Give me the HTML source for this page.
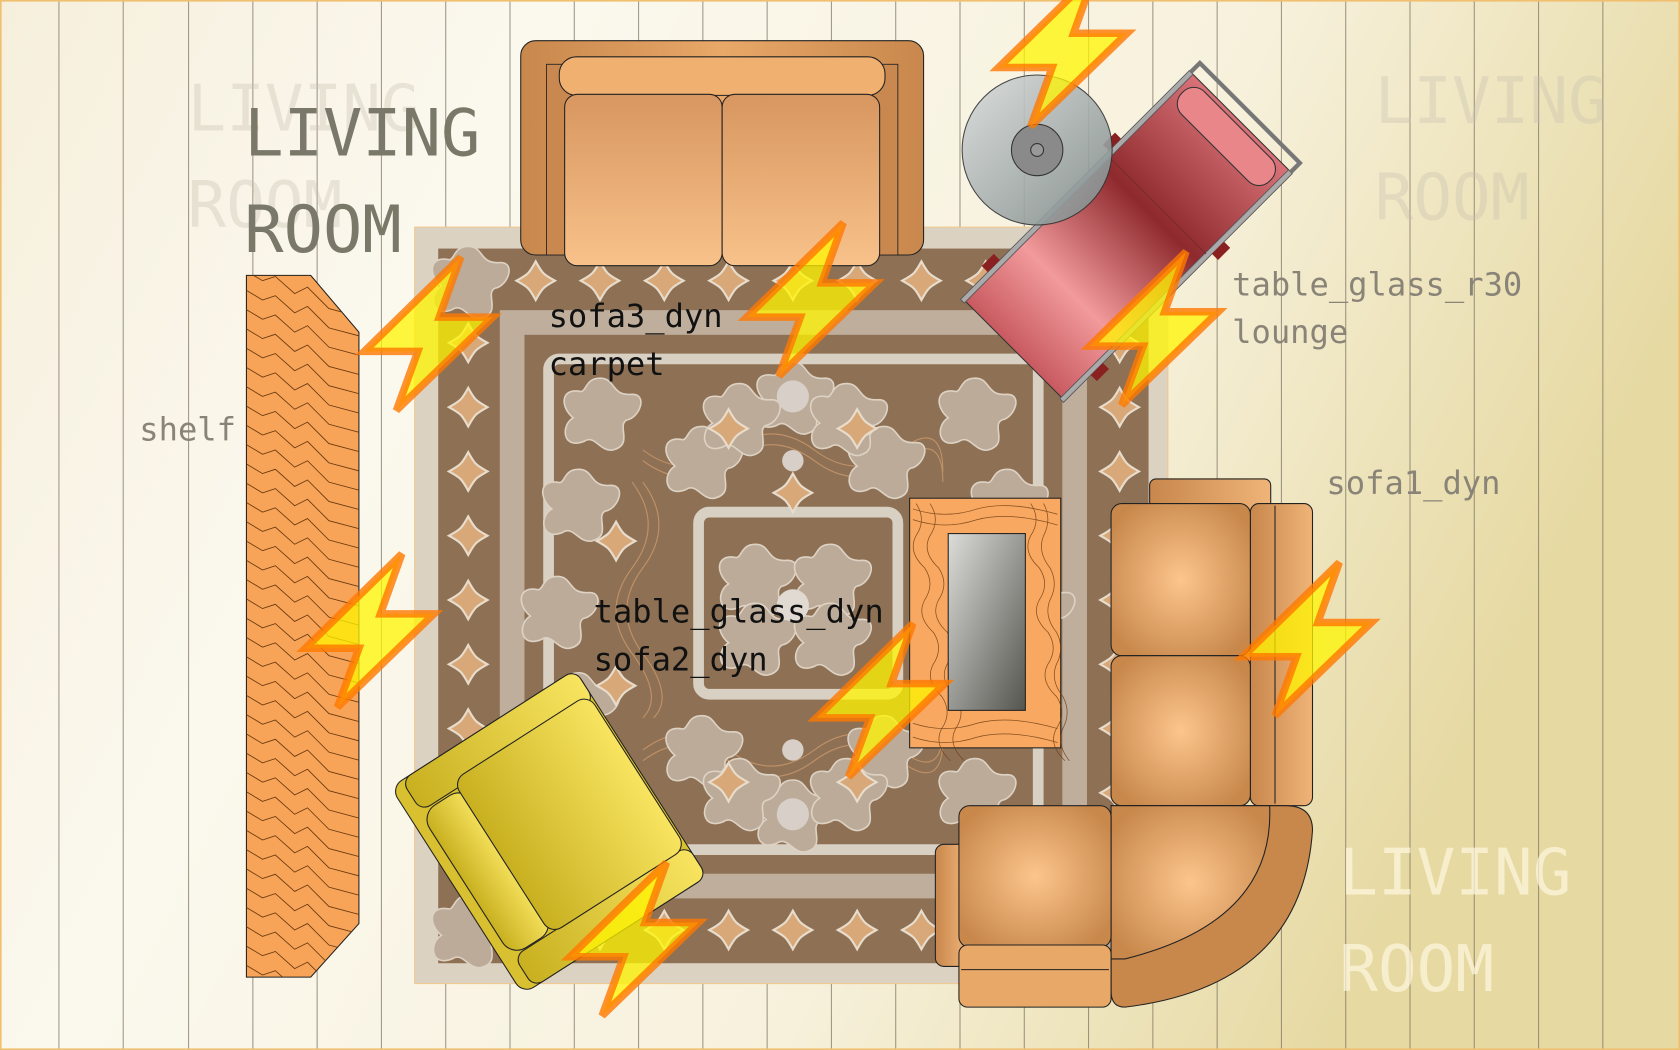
<!DOCTYPE html>
<html><head><meta charset="utf-8"><style>html,body{margin:0;padding:0;overflow:hidden}svg{display:block}</style></head>
<body>
<svg width="1680" height="1050" viewBox="0 0 1568 980" preserveAspectRatio="none" xmlns="http://www.w3.org/2000/svg">
<defs>
<linearGradient id="bg" x1="0" y1="0" x2="1" y2="0.3">
<stop offset="0" stop-color="#f6efdc"/><stop offset="0.3" stop-color="#fbf8ee"/><stop offset="0.7" stop-color="#f7f1dc"/><stop offset="1" stop-color="#e6d9a2"/></linearGradient>
<linearGradient id="sofaFrame" x1="0" y1="0" x2="1" y2="0"><stop offset="0" stop-color="#c8874c"/><stop offset="0.5" stop-color="#e8a868"/><stop offset="1" stop-color="#c8874c"/></linearGradient>
<linearGradient id="cush" x1="0" y1="0" x2="0" y2="1"><stop offset="0" stop-color="#d89660"/><stop offset="1" stop-color="#f8c28a"/></linearGradient>
<radialGradient id="rc" cx="0.5" cy="0.5" r="0.6"><stop offset="0" stop-color="#fcc58c"/><stop offset="1" stop-color="#c8884c"/></radialGradient>
<linearGradient id="arm" x1="0" y1="0" x2="1" y2="0"><stop offset="0" stop-color="#c8874c"/><stop offset="1" stop-color="#f0b478"/></linearGradient>
<linearGradient id="glass" x1="0" y1="0" x2="1" y2="1"><stop offset="0" stop-color="#dcdcd8"/><stop offset="1" stop-color="#555550"/></linearGradient>
<linearGradient id="rt" x1="0" y1="0" x2="1" y2="1"><stop offset="0" stop-color="#d8dcdc"/><stop offset="1" stop-color="#7d8888"/></linearGradient>
<linearGradient id="red" x1="0" y1="0" x2="0" y2="1"><stop offset="0" stop-color="#d87278"/><stop offset="0.4" stop-color="#8e2a2e"/><stop offset="0.75" stop-color="#f29a9c"/><stop offset="1" stop-color="#c85a60"/></linearGradient>
<linearGradient id="yel" x1="0" y1="0" x2="1" y2="0"><stop offset="0" stop-color="#c8b020"/><stop offset="1" stop-color="#f8e460"/></linearGradient>
<clipPath id="shelfClip"><polygon points="230,257 290,257 335,310 335,862 290,912 230,912"/></clipPath>
<path id="bolt" d="M90,0 L0,88 L50,88 L30,143 L120,56 L70,56 Z" fill="rgba(255,245,0,0.75)" stroke="rgba(255,120,0,0.8)" stroke-width="7"/>
<g id="cross"><path d="M0,-18 C6,-7 7,-6 18,0 C7,6 6,7 0,18 C-6,7 -7,6 -18,0 C-7,-6 -6,-7 0,-18Z" fill="#d8a878" stroke="#e8dccc" stroke-width="2"/></g>
<g id="blob"><path d="M0,-32 C15,-32 10,-15 30,-17 C45,-17 37,5 25,7 C15,12 32,30 12,35 C0,37 -5,20 -15,27 C-35,35 -37,12 -25,5 C-37,-5 -37,-22 -20,-20 C-12,-17 -15,-32 0,-32Z" fill="#bcab98" stroke="#ddd2c4" stroke-width="1.5"/></g>
<path id="wave" d="M0,0 q12,-6 24,0 t24,0 t24,0 t24,0 t24,0 t24,0 t24,0 t24,0 t24,0 t24,0 t24,0 t24,0 t24,0 t24,0 t24,0 t24,0 t24,0 t24,0 t24,0 t24,0" fill="none" stroke="#d9d0c4" stroke-width="9"/>
<path id="grain" d="M225,0 l20,12 l12,-4 l18,16 l12,-6 l20,20 l30,8 l20,-4" fill="none" stroke="#6a3a10" stroke-width="0.8"/>
</defs>
<rect width="1568" height="980" fill="url(#bg)"/>
<g stroke="#7a7060" stroke-width="1" opacity="0.7">
<line x1="55" y1="0" x2="55" y2="980"/><line x1="115" y1="0" x2="115" y2="980"/><line x1="176" y1="0" x2="176" y2="980"/><line x1="236" y1="0" x2="236" y2="980"/><line x1="296" y1="0" x2="296" y2="980"/><line x1="356" y1="0" x2="356" y2="980"/><line x1="416" y1="0" x2="416" y2="980"/><line x1="476" y1="0" x2="476" y2="980"/><line x1="536" y1="0" x2="536" y2="980"/><line x1="596" y1="0" x2="596" y2="980"/><line x1="656" y1="0" x2="656" y2="980"/><line x1="716" y1="0" x2="716" y2="980"/><line x1="776" y1="0" x2="776" y2="980"/><line x1="836" y1="0" x2="836" y2="980"/><line x1="896" y1="0" x2="896" y2="980"/><line x1="956" y1="0" x2="956" y2="980"/><line x1="1016" y1="0" x2="1016" y2="980"/><line x1="1076" y1="0" x2="1076" y2="980"/><line x1="1136" y1="0" x2="1136" y2="980"/><line x1="1196" y1="0" x2="1196" y2="980"/><line x1="1256" y1="0" x2="1256" y2="980"/><line x1="1316" y1="0" x2="1316" y2="980"/><line x1="1376" y1="0" x2="1376" y2="980"/><line x1="1436" y1="0" x2="1436" y2="980"/><line x1="1496" y1="0" x2="1496" y2="980"/>
</g>
<rect x="0.5" y="0.5" width="1567" height="979" fill="none" stroke="#f0c070" stroke-width="2"/>
<g font-family="'DejaVu Sans Mono','Liberation Mono',monospace" font-size="60" fill="#c8c0b0" opacity="0.35">
<text x="175" y="122">LIVING</text><text x="175" y="212">ROOM</text>
<text x="1283" y="115">LIVING</text><text x="1283" y="205">ROOM</text>
</g>
<g font-family="'DejaVu Sans Mono','Liberation Mono',monospace" font-size="60" fill="#fff8e0" opacity="0.7">
<text x="1250" y="835">LIVING</text><text x="1250" y="925">ROOM</text>
</g>
<!-- carpet -->
<rect x="387" y="212" width="703" height="706" fill="#dcd2c2" stroke="#f0c890" stroke-width="1"/>
<rect x="409" y="232" width="663" height="667" fill="#8e7155"/>
<g>
<use href="#blob" x="437" y="262"/><use href="#blob" x="1045" y="262"/><use href="#blob" x="437" y="868"/><use href="#blob" x="1045" y="868"/>
<use href="#cross" x="437" y="320"/><use href="#cross" x="437" y="380"/><use href="#cross" x="437" y="440"/><use href="#cross" x="437" y="500"/><use href="#cross" x="437" y="560"/><use href="#cross" x="437" y="620"/><use href="#cross" x="437" y="680"/><use href="#cross" x="437" y="740"/><use href="#cross" x="437" y="800"/>
<use href="#cross" x="1045" y="320"/><use href="#cross" x="1045" y="380"/><use href="#cross" x="1045" y="440"/><use href="#cross" x="1045" y="500"/><use href="#cross" x="1045" y="560"/><use href="#cross" x="1045" y="620"/><use href="#cross" x="1045" y="680"/><use href="#cross" x="1045" y="740"/><use href="#cross" x="1045" y="800"/>
<use href="#cross" x="500" y="262"/><use href="#cross" x="560" y="262"/><use href="#cross" x="620" y="262"/><use href="#cross" x="680" y="262"/><use href="#cross" x="740" y="262"/><use href="#cross" x="800" y="262"/><use href="#cross" x="860" y="262"/><use href="#cross" x="920" y="262"/><use href="#cross" x="980" y="262"/>
<use href="#cross" x="500" y="868"/><use href="#cross" x="560" y="868"/><use href="#cross" x="620" y="868"/><use href="#cross" x="680" y="868"/><use href="#cross" x="740" y="868"/><use href="#cross" x="800" y="868"/><use href="#cross" x="860" y="868"/><use href="#cross" x="920" y="868"/><use href="#cross" x="980" y="868"/>
</g>
<rect x="478" y="301" width="525" height="526" fill="none" stroke="#bfae9c" stroke-width="23"/>
<g>
<rect x="512" y="335" width="457" height="458" rx="10" fill="none" stroke="#d9d0c4" stroke-width="10"/>
<rect x="652" y="478" width="186" height="170" rx="10" fill="none" stroke="#d9d0c4" stroke-width="10"/>
<g fill="none" stroke="#d8a070" stroke-width="1" opacity="0.7">
<path d="M600,420 q40,30 80,0 t80,0 t80,0 t40,20"/><path d="M600,430 q40,30 80,0 t80,0 t80,0 t40,20"/>
<path d="M600,700 q40,-30 80,0 t80,0 t80,0 t40,-20"/><path d="M600,710 q40,-30 80,0 t80,0 t80,0 t40,-20"/>
<path d="M590,450 q30,40 0,80 t0,80 t10,60"/><path d="M600,450 q30,40 0,80 t0,80 t10,60"/>
</g>
<use href="#blob" x="560" y="385"/><use href="#blob" x="910" y="385"/><use href="#blob" x="560" y="740"/><use href="#blob" x="910" y="740"/>
<use href="#blob" x="740" y="370"/><use href="#blob" x="740" y="760"/><use href="#blob" x="520" y="570"/><use href="#blob" x="965" y="570"/>
<use href="#blob" x="705" y="540"/><use href="#blob" x="775" y="540"/><use href="#blob" x="705" y="595"/><use href="#blob" x="775" y="595"/>
<use href="#blob" x="655" y="430"/><use href="#blob" x="825" y="430"/><use href="#blob" x="655" y="700"/><use href="#blob" x="825" y="700"/>
<use href="#blob" x="690" y="390"/><use href="#blob" x="790" y="390"/><use href="#blob" x="690" y="740"/><use href="#blob" x="790" y="740"/>
<use href="#blob" x="540" y="470"/><use href="#blob" x="540" y="660"/><use href="#blob" x="940" y="470"/><use href="#blob" x="940" y="660"/>
<use href="#cross" x="575" y="505"/><use href="#cross" x="575" y="640"/><use href="#cross" x="680" y="400"/><use href="#cross" x="800" y="400"/><use href="#cross" x="680" y="730"/><use href="#cross" x="800" y="730"/><use href="#cross" x="905" y="505"/><use href="#cross" x="905" y="640"/><use href="#cross" x="515" y="750"/><use href="#cross" x="740" y="460"/>
<circle cx="740" cy="370" r="15" fill="#d8d0c8"/><circle cx="740" cy="760" r="15" fill="#d8d0c8"/><circle cx="740" cy="565" r="15" fill="#e0dad2"/><circle cx="740" cy="430" r="10" fill="#d8d0c8"/><circle cx="740" cy="700" r="10" fill="#d8d0c8"/>
</g>
<!-- top sofa -->
<rect x="486" y="38" width="376" height="200" rx="14" fill="url(#sofaFrame)" stroke="#222" stroke-width="1"/>
<rect x="510" y="60" width="24" height="178" fill="#c88850" stroke="#222" stroke-width="0.8"/>
<rect x="814" y="60" width="24" height="178" fill="#c88850" stroke="#222" stroke-width="0.8"/>
<rect x="522" y="53" width="304" height="36" rx="16" fill="#f0b070" stroke="#222" stroke-width="1"/>
<rect x="527" y="88" width="147" height="160" rx="12" fill="url(#cush)" stroke="#222" stroke-width="1"/>
<rect x="674" y="88" width="147" height="160" rx="12" fill="url(#cush)" stroke="#222" stroke-width="1"/>
<!-- shelf -->
<polygon points="230,257 290,257 335,310 335,862 290,912 230,912" fill="#f8a458" stroke="#222" stroke-width="1"/>
<g clip-path="url(#shelfClip)">
<use href="#grain" x="0" y="250"/><use href="#grain" x="0" y="268"/><use href="#grain" x="0" y="286"/><use href="#grain" x="0" y="304"/><use href="#grain" x="0" y="322"/><use href="#grain" x="0" y="340"/><use href="#grain" x="0" y="358"/><use href="#grain" x="0" y="376"/><use href="#grain" x="0" y="394"/><use href="#grain" x="0" y="412"/><use href="#grain" x="0" y="430"/><use href="#grain" x="0" y="448"/><use href="#grain" x="0" y="466"/><use href="#grain" x="0" y="484"/><use href="#grain" x="0" y="502"/><use href="#grain" x="0" y="520"/><use href="#grain" x="0" y="538"/><use href="#grain" x="0" y="556"/><use href="#grain" x="0" y="574"/><use href="#grain" x="0" y="592"/><use href="#grain" x="0" y="610"/><use href="#grain" x="0" y="628"/><use href="#grain" x="0" y="646"/><use href="#grain" x="0" y="664"/><use href="#grain" x="0" y="682"/><use href="#grain" x="0" y="700"/><use href="#grain" x="0" y="718"/><use href="#grain" x="0" y="736"/><use href="#grain" x="0" y="754"/><use href="#grain" x="0" y="772"/><use href="#grain" x="0" y="790"/><use href="#grain" x="0" y="808"/><use href="#grain" x="0" y="826"/><use href="#grain" x="0" y="844"/><use href="#grain" x="0" y="862"/><use href="#grain" x="0" y="880"/><use href="#grain" x="0" y="898"/>
</g>
<!-- lounge -->
<g transform="translate(1052,220) rotate(45)">
<rect x="-64" y="-150" width="128" height="300" fill="url(#red)" stroke="#333" stroke-width="1"/>
<rect x="-58" y="-146" width="116" height="30" rx="14" fill="#e8868a" stroke="#333" stroke-width="1"/>
<rect x="-68" y="-150" width="5" height="302" fill="#aaa" stroke="#555" stroke-width="0.8"/>
<rect x="63" y="-150" width="5" height="302" fill="#aaa" stroke="#555" stroke-width="0.8"/>
<path d="M-66,-150 L-66,-162 L66,-162 L66,-150" fill="none" stroke="#777" stroke-width="4"/>
<rect x="-76" y="-60" width="8" height="16" fill="#8a2020"/><rect x="68" y="-60" width="8" height="16" fill="#8a2020"/>
<rect x="-76" y="100" width="8" height="16" fill="#8a2020"/><rect x="68" y="100" width="8" height="16" fill="#8a2020"/>
<line x1="-64" y1="-40" x2="64" y2="-40" stroke="#7a2a2a" stroke-width="1"/>
</g>
<!-- round table -->
<circle cx="968" cy="140" r="70" fill="url(#rt)" stroke="#333" stroke-width="1" opacity="0.9"/>
<circle cx="968" cy="140" r="24" fill="#8a8a8a" stroke="#333" stroke-width="1"/>
<circle cx="968" cy="140" r="6" fill="#999" stroke="#333" stroke-width="1"/>
<!-- coffee table -->
<rect x="849" y="465" width="141" height="233" fill="#f8a860" stroke="#222" stroke-width="1"/>
<g fill="none" stroke="#6a3a10" stroke-width="0.7" opacity="0.8">
<path d="M855,470 q10,15 0,30 q-8,15 8,30 q10,15 0,30 q-8,15 8,30 q10,15 0,30 q-8,15 8,30 q10,15 0,30 q-8,15 8,30"/>
<path d="M868,470 q10,15 0,30 q-8,15 8,30 q10,15 0,30 q-8,15 8,30 q10,15 0,30 q-8,15 8,30 q10,15 0,30 q-8,15 8,30"/>
<path d="M962,470 q10,15 0,30 q-8,15 8,30 q10,15 0,30 q-8,15 8,30 q10,15 0,30 q-8,15 8,30 q10,15 0,30 q-8,15 8,30"/>
<path d="M974,470 q8,15 0,30 q-6,15 6,30 q8,15 0,30 q-6,15 6,30 q8,15 0,30 q-6,15 6,30 q8,15 0,30 q-6,15 6,30"/>
<path d="M852,475 q30,10 60,0 q30,-8 75,5 M852,485 q30,10 60,0 q30,-8 75,5 M852,675 q30,10 60,0 q30,-8 75,5 M852,688 q30,10 60,0 q30,-8 75,5"/>
</g>
<rect x="885" y="498" width="72" height="165" fill="url(#glass)" stroke="#222" stroke-width="1"/>
<!-- right sofa -->
<rect x="1073" y="447" width="113" height="30" rx="6" fill="url(#arm)" stroke="#222" stroke-width="1"/>
<rect x="1167" y="470" width="58" height="282" rx="8" fill="url(#arm)" stroke="#222" stroke-width="1"/>
<line x1="1190" y1="472" x2="1190" y2="750" stroke="#222" stroke-width="1"/>
<rect x="1037" y="470" width="130" height="142" rx="10" fill="url(#rc)" stroke="#222" stroke-width="1"/>
<rect x="1037" y="612" width="130" height="140" rx="10" fill="url(#rc)" stroke="#222" stroke-width="1"/>
<path d="M1037,752 L1200,752 Q1225,752 1225,775 Q1215,920 1050,940 Q1037,940 1037,925 Z" fill="#c8884c" stroke="#222" stroke-width="1"/>
<path d="M1037,752 L1185,752 Q1190,860 1050,895 L1037,895 Z" fill="url(#rc)" stroke="#222" stroke-width="1"/>
<rect x="873" y="788" width="30" height="114" rx="8" fill="url(#arm)" stroke="#222" stroke-width="1"/>
<rect x="895" y="752" width="142" height="132" rx="10" fill="url(#rc)" stroke="#222" stroke-width="1"/>
<rect x="895" y="882" width="142" height="58" rx="8" fill="#e8a868" stroke="#222" stroke-width="1"/>
<line x1="897" y1="905" x2="1035" y2="905" stroke="#222" stroke-width="1"/>
<!-- yellow armchair -->
<g transform="translate(512,776) rotate(-32.6)">
<rect x="-102" y="-114" width="204" height="229" rx="12" fill="#d8c030" stroke="#222" stroke-width="1"/>
<rect x="-90" y="-114" width="192" height="34" rx="10" fill="url(#yel)" stroke="#222" stroke-width="1"/>
<rect x="-90" y="81" width="192" height="34" rx="10" fill="url(#yel)" stroke="#222" stroke-width="1"/>
<rect x="-92" y="-78" width="48" height="158" rx="16" fill="url(#yel)" stroke="#222" stroke-width="1"/>
<rect x="-50" y="-88" width="150" height="170" rx="12" fill="url(#yel)" stroke="#222" stroke-width="1"/>
</g>
<!-- labels -->
<g font-family="'DejaVu Sans Mono','Liberation Mono',monospace">
<text x="228" y="145" font-size="61" fill="#7a7868">LIVING</text>
<text x="228" y="235" font-size="61" fill="#7a7868">ROOM</text>
<g font-size="30" fill="#111">
<text x="512" y="305">sofa3_dyn</text><text x="512" y="350">carpet</text>
<text x="554" y="581">table_glass_dyn</text><text x="554" y="626">sofa2_dyn</text>
</g>
<g font-size="30" fill="#8a8478">
<text x="130" y="411">shelf</text>
<text x="1150" y="276">table_glass_r30</text><text x="1150" y="320">lounge</text>
<text x="1238" y="461">sofa1_dyn</text>
</g>
</g>
<!-- bolts -->
<use href="#bolt" x="340" y="240"/>
<use href="#bolt" x="285" y="517"/>
<use href="#bolt" x="697" y="208"/>
<use href="#bolt" x="932" y="-25"/>
<use href="#bolt" x="1017" y="235"/>
<use href="#bolt" x="1160" y="525"/>
<use href="#bolt" x="762" y="582"/>
<use href="#bolt" x="532" y="805"/>
</svg>
</body></html>
